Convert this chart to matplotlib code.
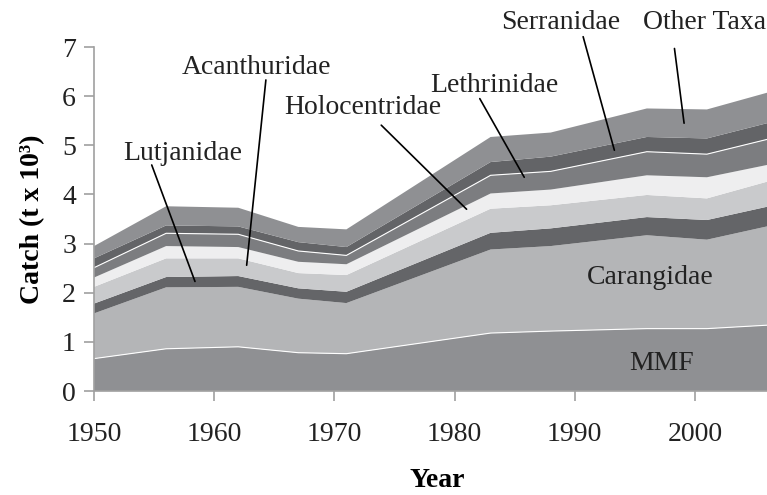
import matplotlib
matplotlib.use('Agg')
import matplotlib.pyplot as plt
import numpy as np

plt.rcParams['font.family'] = ['Liberation Serif', 'DejaVu Serif']

years = [1950, 1956, 1962, 1967, 1971, 1983, 1988, 1996, 2001, 2006]

# catch in t x 10^3 (bottom layer first)
mmf          = [0.66, 0.86, 0.90, 0.78, 0.76, 1.18, 1.22, 1.27, 1.27, 1.34]
carangidae   = [0.92, 1.25, 1.22, 1.10, 1.03, 1.70, 1.73, 1.90, 1.81, 2.01]
lutjanidae   = [0.20, 0.21, 0.22, 0.21, 0.23, 0.34, 0.36, 0.37, 0.40, 0.40]
acanthuridae = [0.34, 0.38, 0.36, 0.31, 0.34, 0.49, 0.47, 0.45, 0.44, 0.51]
holocentridae = [0.19, 0.25, 0.23, 0.23, 0.22, 0.31, 0.32, 0.40, 0.43, 0.34]
lethrinidae  = [0.20, 0.26, 0.26, 0.22, 0.18, 0.37, 0.37, 0.48, 0.47, 0.52]
serranidae   = [0.19, 0.16, 0.16, 0.18, 0.17, 0.27, 0.30, 0.30, 0.32, 0.33]
other_taxa   = [0.25, 0.39, 0.38, 0.31, 0.36, 0.51, 0.49, 0.58, 0.59, 0.62]

layers = [mmf, carangidae, lutjanidae, acanthuridae, holocentridae,
          lethrinidae, serranidae, other_taxa]
colors = ['#8f9093', '#b4b5b7', '#646568', '#c9cacc', '#eeeeef',
          '#7c7d80', '#636467', '#8f9093']

fig = plt.figure(figsize=(7.67, 4.95), dpi=100)
ax = fig.add_axes([0.1226, 0.210, 0.8774, 0.695])

ax.stackplot(years, layers, colors=colors, linewidth=0)

# thin white separators seen in the original
cum = np.cumsum(np.array(layers), axis=0)
ax.plot(years, cum[0], color='white', lw=0.8)
ax.plot(years, cum[5], color='white', lw=0.8)

ax.set_xlim(1950, 2006)
ax.set_ylim(0, 7)
ax.set_xticks([1950, 1960, 1970, 1980, 1990, 2000])
ax.set_yticks(range(0, 8))

for s in ['top', 'right']:
    ax.spines[s].set_visible(False)
for s in ['left', 'bottom']:
    ax.spines[s].set_color('#a0a0a0')
    ax.spines[s].set_linewidth(1.2)
ax.tick_params(axis='both', colors='#a0a0a0', labelcolor='#222222',
               labelsize=20, length=7, width=1.2, direction='out')
ax.tick_params(axis='x', pad=15)
ax.tick_params(axis='y', pad=6)

ax.set_ylabel('Catch (t x 10³)', fontsize=20, fontweight='bold', labelpad=12)
ax.set_xlabel('Year', fontsize=20, fontweight='bold')
ax.xaxis.set_label_coords(0.51, -0.225)

# labels with leader lines: (text, text pos, line start, line end)
callouts = [
    ('Lutjanidae',    (1957.4, 4.84), (1954.8, 4.60), (1958.4, 2.23)),
    ('Acanthuridae',  (1963.5, 6.59), (1964.3, 6.33), (1962.7, 2.56)),
    ('Holocentridae', (1972.4, 5.76), (1973.9, 5.41), (1981.0, 3.70)),
    ('Lethrinidae',   (1983.3, 6.21), (1982.1, 5.95), (1985.8, 4.35)),
    ('Serranidae',    (1988.8, 7.49), (1990.7, 7.21), (1993.3, 4.90)),
    ('Other Taxa',    (2000.8, 7.49), (1998.3, 6.97), (1999.1, 5.45)),
]
for name, tpos, start, end in callouts:
    ax.text(tpos[0], tpos[1], name, fontsize=20, color='#222222',
            ha='center', va='center', clip_on=False)
    ax.annotate('', xy=end, xytext=start, annotation_clip=False,
                arrowprops=dict(arrowstyle='-', color='black', lw=1.2,
                                shrinkA=0, shrinkB=0))

ax.text(1996.3, 2.32, 'Carangidae', fontsize=20, color='#222222',
        ha='center', va='center')
ax.text(1997.2, 0.57, 'MMF', fontsize=20, color='#222222',
        ha='center', va='center')

fig.savefig('out.png', dpi=100)
